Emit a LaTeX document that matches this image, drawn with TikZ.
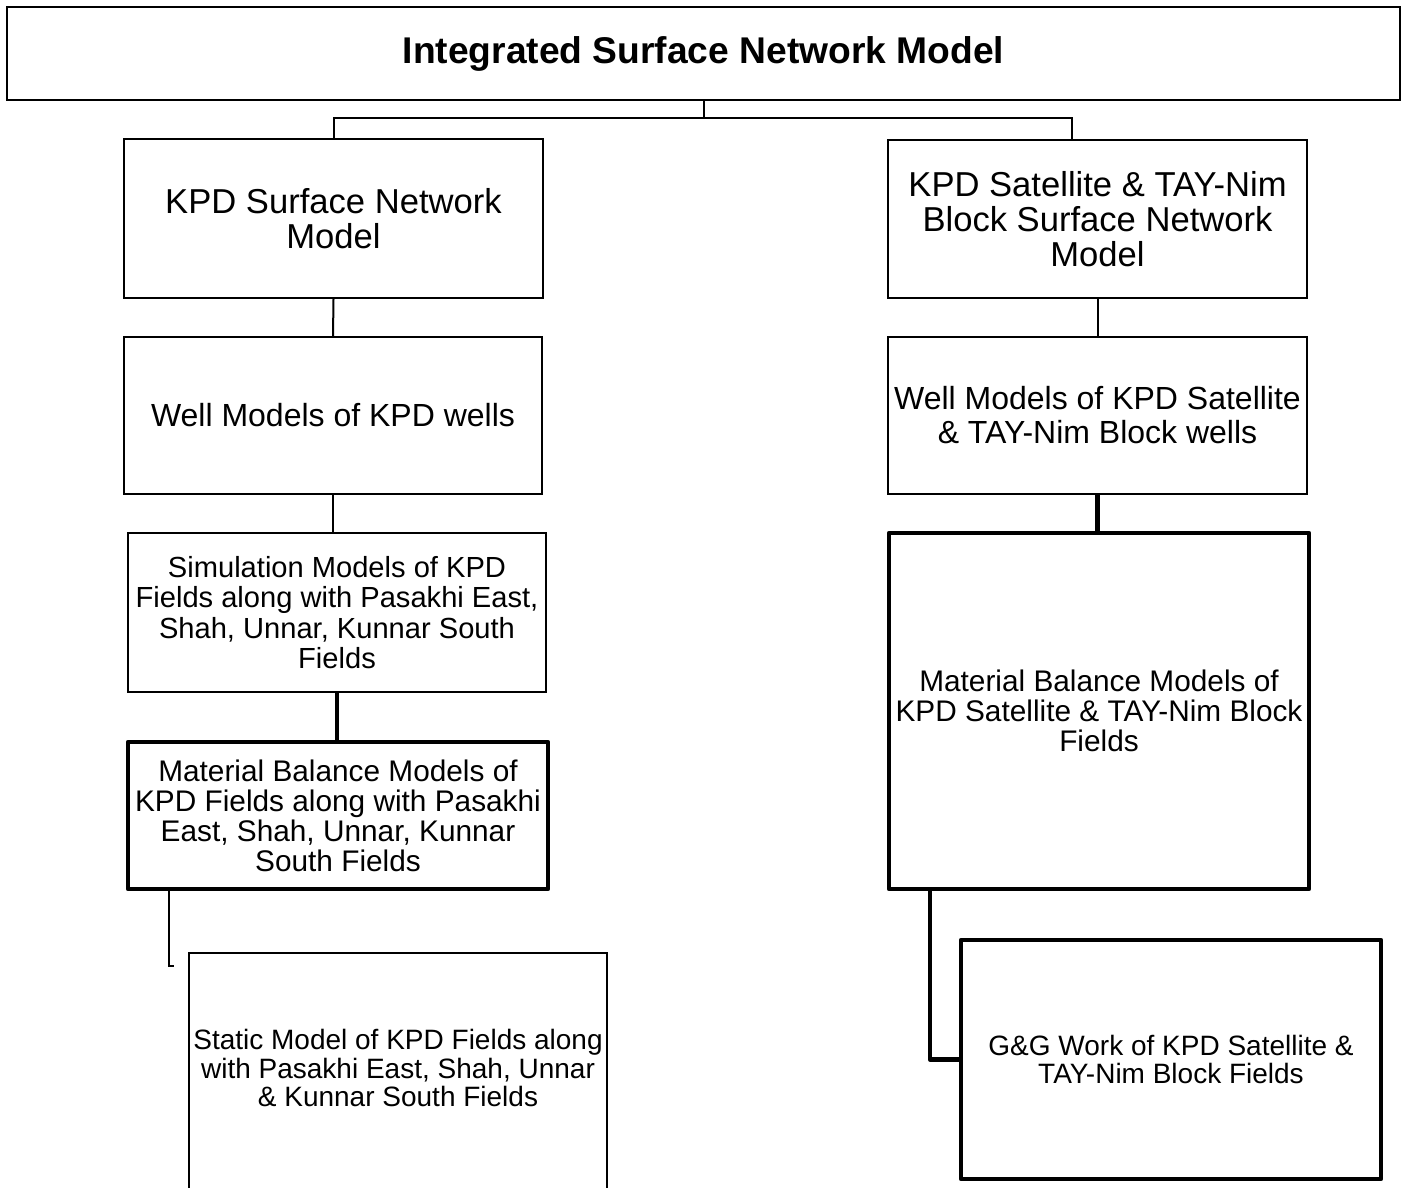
\documentclass[tikz,border=0pt]{standalone}
\usepackage{fontspec}
\setmainfont{Liberation Sans}
\begin{document}
\begin{tikzpicture}[x=1pt,y=-1pt,
  box/.style={draw, line width=2pt, align=center, inner sep=0pt},
  thickbox/.style={draw, line width=4.5pt, align=center, inner sep=0pt, line join=round},
  link/.style={line width=2pt},
  thicklink/.style={line width=4.5pt, line join=round},
  fa/.style={font=\fontsize{34.6}{35}\selectfont},
  fw/.style={font=\fontsize{32}{34}\selectfont},
  fs/.style={font=\fontsize{29.1}{30.5}\selectfont},
  fb/.style={font=\fontsize{29.8}{30}\selectfont},
  fc/.style={font=\fontsize{28}{28.3}\selectfont}]
\useasboundingbox (0,0) rectangle (1405,1187);
\fill[white] (0,0) rectangle (1405,1187);
\clip (0,0) rectangle (1405,1187);

\node[box, line width=2.5pt, minimum width=1393pt, minimum height=93pt,
  font=\fontsize{37.2}{40}\selectfont\bfseries] (top) at (703.5,53.5) {Integrated Surface Network Model};

\node[box, fa, minimum width=419pt, minimum height=159pt] (kpd) at (333.5,218.5) {KPD Surface Network\\Model};
\node[box, fa, minimum width=419pt, minimum height=158pt] (sat) at (1097.5,219) {KPD Satellite \& TAY-Nim\\Block Surface Network\\Model};
\node[box, fw, minimum width=418pt, minimum height=157pt] (wl) at (333,415.5) {Well Models of KPD wells};
\node[box, fw, minimum width=419pt, minimum height=157pt] (wr) at (1097.5,415.5) {Well Models of KPD Satellite\\\& TAY-Nim Block wells};
\node[box, fs, minimum width=418pt, minimum height=159pt] (sim) at (337,612.5) {Simulation Models of KPD\\Fields along with Pasakhi East,\\Shah, Unnar, Kunnar South\\Fields};
\node[thickbox, fb, minimum width=420pt, minimum height=147pt] (matl) at (338,815.5) {Material Balance Models of\\KPD Fields along with Pasakhi\\East, Shah, Unnar, Kunnar\\South Fields};
\node[thickbox, fb, minimum width=420pt, minimum height=356pt] (matr) at (1099,711) {Material Balance Models of\\KPD Satellite \& TAY-Nim Block\\Fields};
\node[align=center, inner sep=0pt, fc, minimum width=418pt, minimum height=230pt] (st) at (398,1068) {Static Model of KPD Fields along\\with Pasakhi East, Shah, Unnar\\\& Kunnar South Fields};
\node[thickbox, fc, minimum width=420pt, minimum height=239pt] (gg) at (1171,1059.5) {G\&G Work of KPD Satellite \&\\TAY-Nim Block Fields};

\draw[link] ([yshift=-30pt]st.south west) -- (st.north west) -- (st.north east) -- ([yshift=-30pt]st.south east);

\coordinate (jr) at (1072,118);
\coordinate (se) at (174,966);
\draw[link] (top.south) -- (top.south |- jr);
\draw[link] (kpd.north) |- (jr) -- (jr |- sat.north);
\draw[link] (kpd.south) -- (wl.north);
\draw[link] (wl.south) -- (wl.south |- sim.north);
\draw[thicklink] (sim.south) -- (sim.south |- matl.north);
\draw[link] ([xshift=43pt]matl.south west) |- (se);
\draw[link] (sat.south) -- (wr.north);
\draw[thicklink] (wr.south) -- (wr.south |- matr.north);
\draw[thicklink] ([xshift=43pt]matr.south west) |- (gg.west);
\end{tikzpicture}
\end{document}
